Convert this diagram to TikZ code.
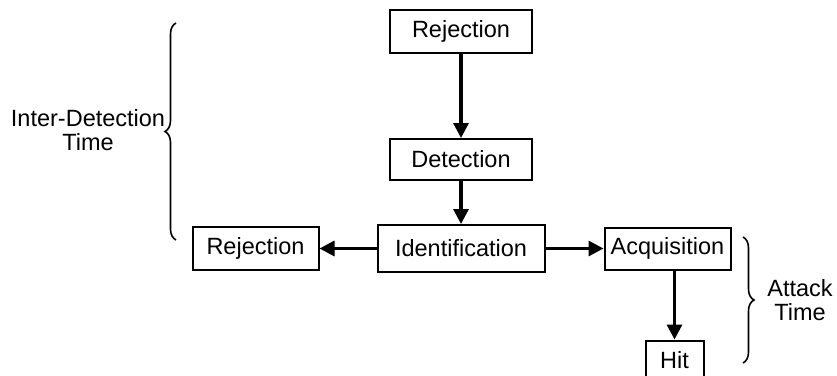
\documentclass[tikz,border=0pt]{standalone}
\usepackage{fontspec}
\setmainfont{Liberation Sans}
\usepackage{tikz}
\usetikzlibrary{arrows.meta,positioning,decorations.pathreplacing}

\begin{document}
\begin{tikzpicture}[
  x=1pt, y=1pt,
  every node/.style={font=\fontsize{23.5}{24}\selectfont, align=center},
  box/.style={draw, line width=2pt, inner xsep=6pt, minimum height=43pt},
  arrow/.style={-{Triangle[length=15pt,width=15pt]}, line width=3.2pt},
  brc/.style={decorate, line width=1.6pt,
    decoration={brace, amplitude=11pt}}
]
\useasboundingbox (0,0) rectangle (837,-375);

\node[box, minimum width=142pt] (rej) at (461,-31.5) {Rejection};
\node[box, minimum width=142pt, minimum height=41pt, below=84pt of rej] (det) {Detection};
\node[box, minimum width=167pt, minimum height=47pt, below=43pt of det] (ident) {Identification};
\node[box, minimum width=126pt, left=57pt of ident] (rejl) {Rejection};
\node[box, minimum width=126pt, minimum height=42pt, right=58pt of ident] (acq) {Acquisition};
\node[box, minimum width=58pt, minimum height=40pt, below=69pt of acq, xshift=7pt] (hit) {Hit};

\draw[arrow] (rej) -- (det);
\draw[arrow] (det) -- (ident);
\draw[arrow] (ident) -- (rejl);
\draw[arrow] (ident) -- (acq);
\draw[arrow] (acq.south -| hit.north) -- (hit.north);

% braces
\coordinate (ib1) at (176,-240);
\coordinate (ib2) at (176,-23);
\coordinate (ab1) at (743,-237);
\coordinate (ab2) at (743,-363);
\draw[brc] (ib1) -- (ib2);
\draw[brc] (ab1) -- (ab2);

\node (idt) at (88,-130) {Inter-Detection\\Time};
\node (att) at (800,-300) {Attack\\Time};
\end{tikzpicture}
\end{document}
